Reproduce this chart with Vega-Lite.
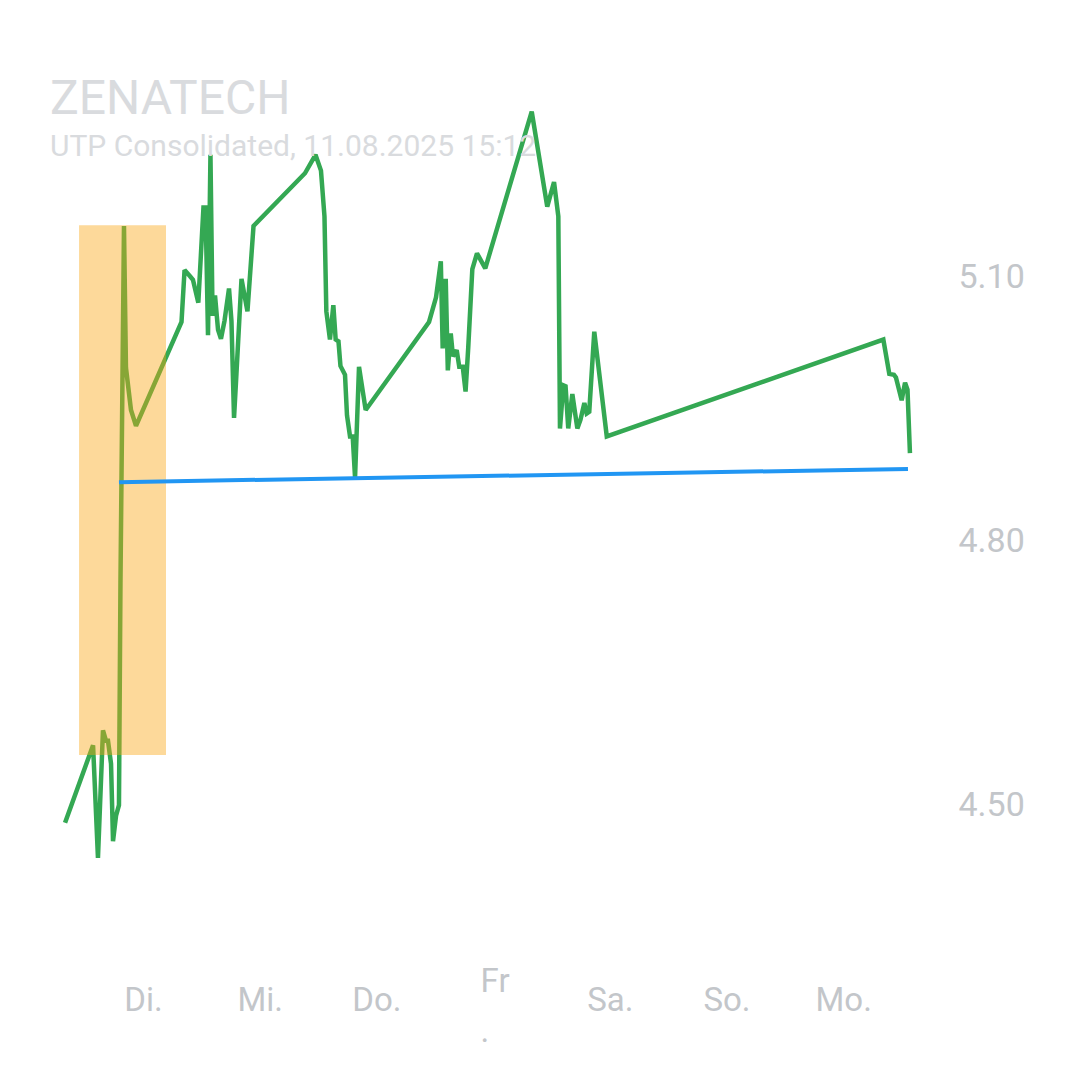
{
  "$schema": "https://vega.github.io/schema/vega-lite/v6.json",
  "width": 940,
  "height": 760,
  "autosize": {"type": "none"},
  "padding": {"top": 200, "left": 0, "right": 140, "bottom": 120},
  "background": "#ffffff",
  "config": {
    "view": {"stroke": null},
    "font": "Roboto"
  },
  "title": {
    "text": "ZENATECH",
    "subtitle": "UTP Consolidated, 11.08.2025 15:12",
    "anchor": "start",
    "frame": "group",
    "dx": 50,
    "offset": -55,
    "font": "Roboto",
    "fontSize": 48,
    "fontWeight": "normal",
    "color": "#d9dbde",
    "subtitleFont": "Roboto",
    "subtitleFontSize": 30,
    "subtitleColor": "#d9dbde",
    "subtitlePadding": 8
  },
  "datasets": {
    "price": [
      {"day": 0.332, "price": 4.481},
      {"day": 0.572, "price": 4.569},
      {"day": 0.614, "price": 4.441},
      {"day": 0.657, "price": 4.586},
      {"day": 0.683, "price": 4.574},
      {"day": 0.700, "price": 4.574},
      {"day": 0.726, "price": 4.548},
      {"day": 0.743, "price": 4.460},
      {"day": 0.769, "price": 4.489},
      {"day": 0.794, "price": 4.501},
      {"day": 0.807, "price": 4.756},
      {"day": 0.837, "price": 5.159},
      {"day": 0.854, "price": 4.998},
      {"day": 0.897, "price": 4.950},
      {"day": 0.940, "price": 4.932},
      {"day": 1.330, "price": 5.050},
      {"day": 1.356, "price": 5.109},
      {"day": 1.403, "price": 5.102},
      {"day": 1.428, "price": 5.098},
      {"day": 1.474, "price": 5.072},
      {"day": 1.518, "price": 5.180},
      {"day": 1.536, "price": 5.180},
      {"day": 1.557, "price": 5.035},
      {"day": 1.578, "price": 5.240},
      {"day": 1.596, "price": 5.057},
      {"day": 1.617, "price": 5.080},
      {"day": 1.643, "price": 5.041},
      {"day": 1.668, "price": 5.031},
      {"day": 1.698, "price": 5.051},
      {"day": 1.737, "price": 5.088},
      {"day": 1.758, "price": 5.051},
      {"day": 1.780, "price": 4.941},
      {"day": 1.801, "price": 4.992},
      {"day": 1.844, "price": 5.099},
      {"day": 1.895, "price": 5.062},
      {"day": 1.947, "price": 5.159},
      {"day": 2.388, "price": 5.219},
      {"day": 2.478, "price": 5.240},
      {"day": 2.525, "price": 5.222},
      {"day": 2.555, "price": 5.170},
      {"day": 2.571, "price": 5.062},
      {"day": 2.602, "price": 5.030},
      {"day": 2.631, "price": 5.069},
      {"day": 2.651, "price": 5.030},
      {"day": 2.675, "price": 5.028},
      {"day": 2.692, "price": 5.000},
      {"day": 2.731, "price": 4.990},
      {"day": 2.748, "price": 4.944},
      {"day": 2.774, "price": 4.920},
      {"day": 2.797, "price": 4.920},
      {"day": 2.817, "price": 4.873},
      {"day": 2.851, "price": 4.999},
      {"day": 2.908, "price": 4.950},
      {"day": 3.451, "price": 5.050},
      {"day": 3.511, "price": 5.078},
      {"day": 3.552, "price": 5.119},
      {"day": 3.568, "price": 5.020},
      {"day": 3.594, "price": 5.099},
      {"day": 3.612, "price": 4.995},
      {"day": 3.637, "price": 5.037},
      {"day": 3.656, "price": 5.011},
      {"day": 3.688, "price": 5.018},
      {"day": 3.710, "price": 4.999},
      {"day": 3.740, "price": 4.999},
      {"day": 3.764, "price": 4.971},
      {"day": 3.787, "price": 5.021},
      {"day": 3.822, "price": 5.110},
      {"day": 3.862, "price": 5.128},
      {"day": 3.933, "price": 5.111},
      {"day": 4.331, "price": 5.289},
      {"day": 4.464, "price": 5.181},
      {"day": 4.522, "price": 5.209},
      {"day": 4.559, "price": 5.170},
      {"day": 4.573, "price": 4.929},
      {"day": 4.602, "price": 4.978},
      {"day": 4.621, "price": 4.977},
      {"day": 4.644, "price": 4.929},
      {"day": 4.679, "price": 4.968},
      {"day": 4.722, "price": 4.929},
      {"day": 4.749, "price": 4.939},
      {"day": 4.782, "price": 4.958},
      {"day": 4.802, "price": 4.946},
      {"day": 4.824, "price": 4.948},
      {"day": 4.867, "price": 5.039},
      {"day": 4.974, "price": 4.920},
      {"day": 7.344, "price": 5.030},
      {"day": 7.395, "price": 4.991},
      {"day": 7.435, "price": 4.990},
      {"day": 7.452, "price": 4.987},
      {"day": 7.501, "price": 4.961},
      {"day": 7.530, "price": 4.981},
      {"day": 7.551, "price": 4.973},
      {"day": 7.572, "price": 4.901}
    ],
    "trend": [
      {"day": 0.794, "price": 4.868},
      {"day": 7.555, "price": 4.883}
    ],
    "band": [
      {"start": 0.452, "end": 1.197, "low": 4.558, "high": 5.160}
    ]
  },
  "layer": [
    {
      "data": {"name": "price"},
      "mark": {"type": "line", "color": "#34a853", "strokeWidth": 4.5, "strokeJoin": "miter", "strokeMiterLimit": 2},
      "encoding": {
        "x": {
          "field": "day",
          "type": "quantitative",
          "scale": {"domain": [-0.2254, 7.8295], "nice": false, "zero": false},
          "axis": {
            "orient": "bottom",
            "title": null,
            "values": [1, 2, 3, 4, 5, 6, 7],
            "labelExpr": "datum.value == 1 ? 'Di.' : datum.value == 2 ? 'Mi.' : datum.value == 3 ? 'Do.' : datum.value == 4 ? ['Fr', '.'] : datum.value == 5 ? 'Sa.' : datum.value == 6 ? 'So.' : 'Mo.'",
            "domain": false,
            "ticks": false,
            "grid": false,
            "labelFont": "Roboto",
            "labelFontSize": 33,
            "labelColor": "#c3c6ca",
            "labelPadding": {"condition": {"test": "datum.value == 4", "value": 21}, "value": 40},
            "labelAlign": {"condition": {"test": "datum.value == 4", "value": "left"}, "value": "center"},
            "labelOffset": {"condition": {"test": "datum.value == 4", "value": -13}, "value": 0},
            "labelBaseline": "middle",
            "labelLineHeight": 50,
            "labelOverlap": false,
            "labelBound": false,
            "labelFlush": false
          }
        },
        "y": {
          "field": "price",
          "type": "quantitative",
          "scale": {"domain": [4.325, 5.1886], "nice": false, "zero": false},
          "axis": {
            "orient": "right",
            "title": null,
            "values": [4.5, 4.8, 5.1],
            "format": ".2f",
            "domain": false,
            "ticks": false,
            "grid": false,
            "labelFont": "Roboto",
            "labelFontSize": 34,
            "labelColor": "#c3c6ca",
            "labelPadding": 18,
            "labelAlign": "left",
            "labelBaseline": "middle",
            "labelOverlap": false,
            "labelBound": false,
            "labelFlush": false
          }
        }
      }
    },
    {
      "data": {"name": "band"},
      "mark": {"type": "rect", "color": "#faa40e", "opacity": 0.42},
      "encoding": {
        "x": {"field": "start", "type": "quantitative"},
        "x2": {"field": "end"},
        "y": {"field": "low", "type": "quantitative"},
        "y2": {"field": "high"}
      }
    },
    {
      "data": {"name": "trend"},
      "mark": {"type": "line", "color": "#2196f3", "strokeWidth": 4},
      "encoding": {
        "x": {"field": "day", "type": "quantitative"},
        "y": {"field": "price", "type": "quantitative"}
      }
    }
  ]
}
